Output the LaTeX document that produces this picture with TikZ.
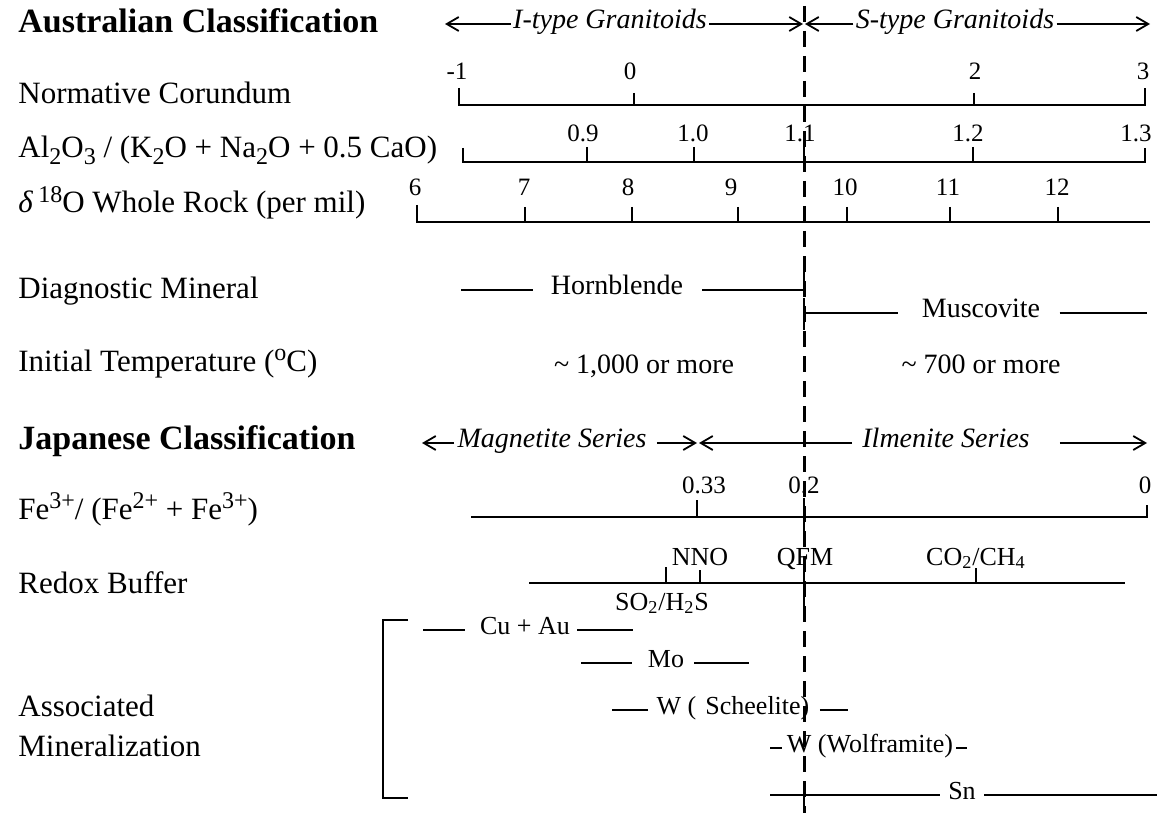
\documentclass[tikz,border=0pt]{standalone}
\usepackage{fontspec}
\setmainfont{Liberation Serif}
\usetikzlibrary{arrows.meta}
\newcommand{\lsub}[1]{\raisebox{-0.45ex}{\fontsize{12}{13}\selectfont #1}}
\newcommand{\lsup}[1]{\raisebox{0.75ex}{\fontsize{12}{13}\selectfont #1}}
\begin{document}
\begin{tikzpicture}[x=0.5pt,y=-0.5pt,
  lbl/.style={anchor=base west,inner sep=0pt,font=\fontsize{15.5}{18}\selectfont},
  headlbl/.style={anchor=base west,inner sep=0pt,font=\fontsize{17}{19}\selectfont\bfseries},
  txt/.style={anchor=base,inner sep=0pt,font=\fontsize{14}{16}\selectfont},
  bartxt/.style={anchor=center,inner sep=0pt,text height=1ex,text depth=0pt,font=\fontsize{14}{16}\selectfont},
  minbar/.style={anchor=center,inner sep=0pt,text height=1ex,text depth=0pt,font=\fontsize{13}{15}\selectfont},
  arrtxt/.style={anchor=center,inner sep=0pt,text height=1ex,text depth=0pt,font=\fontsize{14}{16}\selectfont\itshape},
  num/.style={anchor=base,inner sep=0pt,font=\fontsize{12.5}{14}\selectfont},
  buf/.style={anchor=base,inner sep=0pt,font=\fontsize{13}{15}\selectfont},
  axis/.style={line width=1.2pt},
  bar/.style={line width=1.1pt},
  divider/.style={line width=1.5pt,dash pattern=on 8pt off 4.5pt},
  arr/.style={line width=0.9pt,-{Straight Barb[length=6pt,width=7pt]}},
]
\useasboundingbox (0,0) rectangle (1163,813);
\fill[white] (0,0) rectangle (1163,813);

% ---------------- left labels ----------------
\node[headlbl] (aus) at (18,33) {Australian Classification};
\node[lbl] (corl) at (18,104) {Normative Corundum};
\node[lbl] (all) at (18,158) {Al\lsub{2}O\lsub{3} / (K\lsub{2}O + Na\lsub{2}O + 0.5 CaO)};
\node[lbl] (dl) at (18,213) {\textit{δ}\,\lsup{18}O Whole Rock (per mil)};
\node[lbl] (dml) at (18,298) {Diagnostic Mineral};
\node[lbl] (itl) at (18,371) {Initial Temperature (\lsup{o}C)};
\node[headlbl] (jap) at (18,449) {Japanese Classification};
\node[lbl] (fel) at (18,519) {Fe\lsup{3+}/ (Fe\lsup{2+} + Fe\lsup{3+})};
\node[lbl] (rdl) at (18,593) {Redox Buffer};
\node[lbl] (asl) at (18,716) {Associated};
\node[lbl] (mnl) at (18,756) {Mineralization};

% ---------------- divider ----------------
\coordinate (dtop) at (804,6);
\coordinate (dbot) at (804,813);
\draw[divider] (dtop) -- (dbot);

% ---------------- I-type / S-type ----------------
\node[arrtxt] (it) at (610,24) {I-type Granitoids};
\node[arrtxt] (st) at (955,24) {S-type Granitoids};
\coordinate (itL) at (445,24);
\coordinate (itR) at (803,24);
\coordinate (stL) at (805,24);
\coordinate (stR) at (1150,24);
\draw[arr] ([xshift=-1pt]it.west) -- (it.west -| itL);
\draw[arr] ([xshift=1pt]it.east) -- (it.east -| itR);
\draw[arr] ([xshift=-1pt]st.west) -- (st.west -| stL);
\draw[arr] ([xshift=1pt]st.east) -- (st.east -| stR);

% ---------------- Normative corundum ----------------
\draw[axis] (459,88) -- (459,105) -- (1145,105) -- (1145,88);
\foreach \x in {634,974} \draw[axis] (\x,93) -- (\x,105);
\node[num] (c1) at (457,80) {-1};
\node[num] (c2) at (630,80) {0};
\node[num] (c3) at (975,80) {2};
\node[num] (c4) at (1143,80) {3};

% ---------------- A/CNK ----------------
\draw[axis] (463,148) -- (463,162) -- (1145,162) -- (1145,148);
\foreach \x in {587,694,804,973} \draw[axis] (\x,147) -- (\x,162);
\node[num] (a1) at (583,142) {0.9};
\node[num] (a2) at (693,142) {1.0};
\node[num] (a3) at (800,142) {1.1};
\node[num] (a4) at (968,142) {1.2};
\node[num] (a5) at (1136,142) {1.3};

% ---------------- delta 18O ----------------
\draw[axis] (417,205) -- (417,222) -- (1150,222);
\foreach \x in {525,632,738,847,950,1058} \draw[axis] (\x,207) -- (\x,222);
\node[num] (o1) at (415,196) {6};
\node[num] (o2) at (524,196) {7};
\node[num] (o3) at (628,196) {8};
\node[num] (o4) at (731,196) {9};
\node[num] (o5) at (845,196) {10};
\node[num] (o6) at (948,196) {11};
\node[num] (o7) at (1057,196) {12};

% ---------------- Diagnostic mineral ----------------
\node[bartxt] (hbl) at (617,290) {Hornblende};
\coordinate (hbL) at (461,290);
\coordinate (hbR) at (804,290);
\coordinate (hbT) at (804,257);
\draw[bar] ([xshift=-9pt]hbl.west) -- (hbl.west -| hbL);
\draw[bar] ([xshift=9.5pt]hbl.east) -- (hbR) -- (hbT);

\node[bartxt] (msc) at (981,313) {Muscovite};
\coordinate (msL) at (804,313);
\coordinate (msR) at (1147,313);
\coordinate (msT) at (804,298);
\coordinate (msB) at (804,330);
\draw[bar] ([xshift=-12pt]msc.west) -- (msL);
\draw[bar] (msT) -- (msB);
\draw[bar] ([xshift=9.5pt]msc.east) -- (msc.east -| msR);

% ---------------- Temperature ----------------
\node[txt] (t1) at (644,373) {\textasciitilde\ 1,000 or more};
\node[txt] (t2) at (981,373) {\textasciitilde\ 700 or more};

% ---------------- Magnetite / Ilmenite ----------------
\node[arrtxt] (mag) at (552,443) {Magnetite Series};
\node[arrtxt] (ilm) at (946,443) {Ilmenite Series};
\coordinate (mgL) at (422,443);
\coordinate (mgR) at (697,443);
\coordinate (ilL) at (699,443);
\coordinate (ilR) at (1147,443);
\draw[arr] ([xshift=-1.5pt]mag.west) -- (mag.west -| mgL);
\draw[arr] ([xshift=5pt]mag.east) -- (mag.east -| mgR);
\draw[arr] ([xshift=-5pt]ilm.west) -- (ilm.west -| ilL);
\draw[arr] ([xshift=15pt]ilm.east) -- (ilm.east -| ilR);

% ---------------- Fe ratio ----------------
\draw[axis] (471,517) -- (1147,517) -- (1147,505);
\draw[axis] (697,500) -- (697,517);
\draw[axis] (804,498) -- (804,535);
\node[num] (f1) at (704,493) {0.33};
\node[num] (f2) at (804,493) {0.2};
\node[num] (f3) at (1145,493) {0};

% ---------------- Redox buffer ----------------
\draw[axis] (529,583) -- (1125,583);
\draw[axis] (666,567) -- (666,583);
\draw[axis] (700,570) -- (700,583);
\draw[axis] (804,572) -- (804,617);
\draw[axis] (976,568) -- (976,583);
\node[buf] (r1) at (700,565) {NNO};
\node[buf] (r2) at (805,565) {QFM};
\node[buf] (r3) at (976,565) {CO\textsubscript{2}/CH\textsubscript{4}};
\node[buf] (r4) at (662,610) {SO\textsubscript{2}/H\textsubscript{2}S};

% ---------------- Associated mineralization ----------------
\draw[axis] (408,620) -- (383,620) -- (383,798) -- (408,798);

\node[minbar] (cu) at (525,630) {Cu + Au};
\coordinate (cuL) at (423,630);
\coordinate (cuR) at (633,630);
\draw[bar] ([xshift=-7.5pt]cu.west) -- (cu.west -| cuL);
\draw[bar] ([xshift=3.5pt]cu.east) -- (cu.east -| cuR);

\node[minbar] (mo) at (666,663) {Mo};
\coordinate (moL) at (581,663);
\coordinate (moR) at (749,663);
\draw[bar] ([xshift=-8pt]mo.west) -- (mo.west -| moL);
\draw[bar] ([xshift=5pt]mo.east) -- (mo.east -| moR);

\node[minbar] (ws) at (733,710) {W (\hspace{0.35em}Scheelite)};
\coordinate (wsL) at (612,710);
\coordinate (wsR) at (848,710);
\draw[bar] ([xshift=-4pt]ws.west) -- (ws.west -| wsL);
\draw[bar] ([xshift=5pt]ws.east) -- (ws.east -| wsR);

\node[minbar] (wf) at (870,748) {W (Wolframite)};
\coordinate (wfL) at (770,748);
\coordinate (wfR) at (967,748);
\draw[bar] ([xshift=-2.5pt]wf.west) -- (wf.west -| wfL);
\draw[bar] ([xshift=1.5pt]wf.east) -- (wf.east -| wfR);

\node[minbar] (sn) at (962,795) {Sn};
\coordinate (snL) at (770,795);
\coordinate (snR) at (1157,795);
\coordinate (snB) at (804,813);
\draw[bar] ([xshift=-4pt]sn.west) -- (sn.west -| snL);
\draw[bar] ([xshift=4pt]sn.east) -- (sn.east -| snR);
\draw[axis] (sn.west -| snB) -- (snB);
\end{tikzpicture}
\end{document}
